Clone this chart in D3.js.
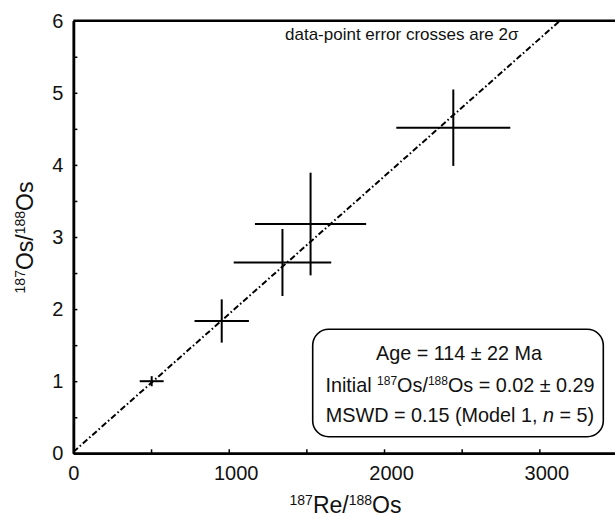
<!DOCTYPE html>
<html>
<head>
<meta charset="utf-8">
<script src="https://cdn.jsdelivr.net/npm/d3@7"></script>
<style>
  body { margin: 0; background: #fff; }
  svg { display: block; font-family: "Liberation Sans", Arial, sans-serif; }
</style>
</head>
<body>
<div id="chart"></div>
<script>
// 187Re/188Os ratios and 2-sigma errors
const reOs = [504, 955, 1346, 1527, 2446];
const reOsErr = [77, 175, 314, 358, 367];
// 187Os/188Os ratios and 2-sigma errors
const osOs = [1.00, 1.835, 2.646, 3.18, 4.516];
const osOsErr = [0.07, 0.30, 0.465, 0.712, 0.53];

// isochron fit
const intercept = 0.02;
const slope = 0.001909;

const xTicks = [0, 1000, 2000, 3000];
const xMinor = [500, 1500, 2500];
const yTicks = [0, 1, 2, 3, 4, 5, 6];
const yMinor = [0.5, 1.5, 2.5, 3.5, 4.5, 5.5];

const width = 615, height = 519;

const svg = d3.select("#chart")
    .append("svg")
    .attr("width", width)
    .attr("height", height);

const x = d3.scaleLinear().domain([0, 3500]).range([73.4, 617]);
const y = d3.scaleLinear().domain([0, 6]).range([453.3, 20.7]);

svg.append("clipPath").attr("id", "plot")
    .append("rect")
    .attr("x", x(0)).attr("y", y(6))
    .attr("width", x(3500) - x(0)).attr("height", y(0) - y(6));

// isochron line (dash-dot)
svg.append("line")
    .attr("clip-path", "url(#plot)")
    .attr("x1", x(0)).attr("y1", y(intercept))
    .attr("x2", x((6 - intercept) / slope)).attr("y2", y(6))
    .attr("stroke", "#000")
    .attr("stroke-width", 2)
    .attr("stroke-dasharray", "6,2.5,1.6,2.5");

// error crosses
const data = reOs.map((d, i) => ({ x: d, xe: reOsErr[i], y: osOs[i], ye: osOsErr[i] }));
const crosses = svg.append("g").attr("stroke", "#000").attr("stroke-width", 2);
crosses.selectAll(".h").data(data).enter().append("line")
    .attr("x1", d => x(d.x - d.xe)).attr("x2", d => x(d.x + d.xe))
    .attr("y1", d => y(d.y)).attr("y2", d => y(d.y));
crosses.selectAll(".v").data(data).enter().append("line")
    .attr("x1", d => x(d.x)).attr("x2", d => x(d.x))
    .attr("y1", d => y(d.y - d.ye)).attr("y2", d => y(d.y + d.ye));

// axes
const styleAxis = g => {
    g.select(".domain").attr("stroke-width", 2.5);
    g.selectAll(".tick line").attr("stroke-width", 1.5);
    g.selectAll("text").attr("font-size", 20).attr("fill", "#111")
        .attr("font-family", "Liberation Sans, Arial, sans-serif");
};

svg.append("g")
    .attr("transform", `translate(${x(0)},0)`)
    .call(d3.axisLeft(y).tickValues(yMinor).tickFormat("").tickSizeInner(-4).tickSizeOuter(0))
    .call(styleAxis);
svg.append("g")
    .attr("transform", `translate(${x(0)},0)`)
    .call(d3.axisLeft(y).tickValues(yTicks).tickFormat(d3.format("d")).tickSizeInner(-4).tickSizeOuter(0).tickPadding(10))
    .call(styleAxis);

svg.append("g")
    .attr("transform", `translate(0,${y(0)})`)
    .call(d3.axisBottom(x).tickValues(xMinor).tickFormat("").tickSizeInner(-4).tickSizeOuter(0))
    .call(styleAxis);
const xAxis = svg.append("g")
    .attr("transform", `translate(0,${y(0)})`)
    .call(d3.axisBottom(x).tickValues(xTicks).tickFormat(d3.format("d")).tickSizeInner(-4).tickSizeOuter(0).tickPadding(13))
    .call(styleAxis);
xAxis.selectAll(".tick text").attr("dx", d => d > 0 ? 7 : 0);

// top frame line
svg.append("line")
    .attr("x1", x(0)).attr("x2", x(3500))
    .attr("y1", y(6)).attr("y2", y(6))
    .attr("stroke", "#000").attr("stroke-width", 2.5);

// text with superscripts: parts are [text, isSuperscript]; shift in px
function richText(sel, parts, supSize, shift) {
    let raised = false;
    parts.forEach(([t, sup]) => {
        const span = sel.append("tspan").text(t);
        if (sup) span.attr("font-size", supSize);
        if (sup && !raised) span.attr("dy", -shift);
        if (!sup && raised) span.attr("dy", shift);
        raised = sup;
    });
}

// axis titles
richText(svg.append("text")
    .attr("x", 345.5).attr("y", 513)
    .attr("text-anchor", "middle")
    .attr("font-size", 23).attr("fill", "#111"),
    [["187", true], ["Re/", false], ["188", true], ["Os", false]], 14, 8);

richText(svg.append("text")
    .attr("transform", "rotate(-90)")
    .attr("x", -237.5).attr("y", 33)
    .attr("text-anchor", "middle")
    .attr("font-size", 23).attr("fill", "#111"),
    [["187", true], ["Os/", false], ["188", true], ["Os", false]], 14, 8);

// note
svg.append("text")
    .attr("x", 285).attr("y", 40)
    .attr("font-size", 17).attr("fill", "#111")
    .text("data-point error crosses are 2σ");

// results box
svg.append("rect")
    .attr("x", 312.7).attr("y", 329.3)
    .attr("width", 290.6).attr("height", 107.4)
    .attr("rx", 16)
    .attr("fill", "#fff").attr("stroke", "#000").attr("stroke-width", 1.6);

const boxText = svg.append("g")
    .attr("text-anchor", "middle")
    .attr("font-size", 19.8)
    .attr("fill", "#111");

boxText.append("text").attr("x", 459).attr("y", 359.5).text("Age = 114 ± 22 Ma");
richText(boxText.append("text").attr("x", 460).attr("y", 391.5),
    [["Initial ", false], ["187", true], ["Os/", false], ["188", true], ["Os = 0.02 ± 0.29", false]], 12, 7);
const mswd = boxText.append("text").attr("x", 460).attr("y", 422);
mswd.append("tspan").text("MSWD = 0.15 (Model 1, ");
mswd.append("tspan").attr("font-style", "italic").text("n");
mswd.append("tspan").text(" = 5)");
</script>
</body>
</html>
